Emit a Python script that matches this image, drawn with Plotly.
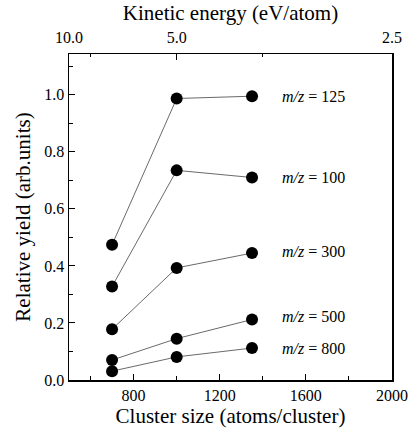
import plotly.graph_objects as go

cluster_size = [700, 1000, 1350]
series_names = ["125", "100", "300", "500", "800"]
yield_125 = [0.474, 0.987, 0.995]
yield_100 = [0.328, 0.735, 0.710]
yield_300 = [0.178, 0.393, 0.445]
yield_500 = [0.070, 0.145, 0.212]
yield_800 = [0.031, 0.081, 0.112]
series_values = [yield_125, yield_100, yield_300, yield_500, yield_800]
label_shift = [0, 0, 2, 3, 0]

energy_ticks = [10.0, 5.0, 2.5]
energy_times_size = 5000.0

FONT = "Liberation Serif"

fig = go.Figure()
for name, vals in zip(series_names, series_values):
    fig.add_trace(go.Scatter(
        x=cluster_size, y=vals, mode="lines+markers",
        line=dict(color="#6a6a6a", width=1),
        marker=dict(color="black", size=12),
        showlegend=False, name="m/z = " + name,
    ))

# invisible trace to activate the top axis
fig.add_trace(go.Scatter(x=[500, 2000], y=[0, 0], xaxis="x2", mode="markers",
                         marker=dict(opacity=0), showlegend=False, hoverinfo="skip"))

for name, vals, sh in zip(series_names, series_values, label_shift):
    fig.add_annotation(x=1480, y=vals[-1], xref="x", yref="y", xanchor="left",
                       yanchor="middle", yshift=sh, showarrow=False,
                       text="<i>m/z</i> = " + name,
                       font=dict(family=FONT, size=16, color="black"))

tickfont = dict(family=FONT, size=16, color="black")
titlefont = dict(family=FONT, size=21, color="black")

fig.update_layout(
    width=420, height=434,
    margin=dict(l=69, r=19, t=52, b=54),
    paper_bgcolor="white", plot_bgcolor="white",
    font=dict(family=FONT, color="black", size=16),
    hovermode=False,
    xaxis=dict(
        range=[500, 2000], tickvals=[800, 1200, 1600, 2000],
        ticks="inside", ticklen=6, tickwidth=1, tickcolor="black",
        showline=True, linecolor="black", linewidth=1.5, showgrid=False, zeroline=False,
        tickfont=tickfont,
        minor=dict(tickvals=[600, 1000, 1400, 1800], ticks="inside", ticklen=4, tickcolor="black"),
        title=dict(text="Cluster size (atoms/cluster)", font=titlefont, standoff=4),
    ),
    xaxis2=dict(
        overlaying="x", side="top", range=[500, 2000],
        tickvals=[energy_times_size / e for e in energy_ticks],
        ticktext=["%.1f" % e for e in energy_ticks],
        ticks="inside", ticklen=6, tickcolor="black",
        showline=True, linecolor="black", linewidth=1.5, showgrid=False, zeroline=False,
        tickfont=tickfont, ticklabelstandoff=3,
        minor=dict(tickvals=[600, 1400], ticks="inside", ticklen=3, tickcolor="black"),
        title=dict(text="Kinetic energy (eV/atom)", font=titlefont, standoff=2),
    ),
    yaxis=dict(
        range=[0, 1.143], tickvals=[0.0, 0.2, 0.4, 0.6, 0.8, 1.0], tickformat=".1f",
        ticks="inside", ticklen=6, tickcolor="black",
        showline=True, linecolor="black", linewidth=1.5, mirror=True,
        showgrid=False, zeroline=False,
        tickfont=tickfont,
        minor=dict(tickvals=[0.1, 0.3, 0.5, 0.7, 0.9, 1.1], ticks="inside", ticklen=4, tickcolor="black"),
        title=dict(text="Relative yield (arb.units)", font=titlefont, standoff=8),
    ),
)

fig.write_html("out.html", config={"displayModeBar": False, "staticPlot": True},
               post_script="document.body.style.margin='0';document.body.style.overflow='hidden';")
